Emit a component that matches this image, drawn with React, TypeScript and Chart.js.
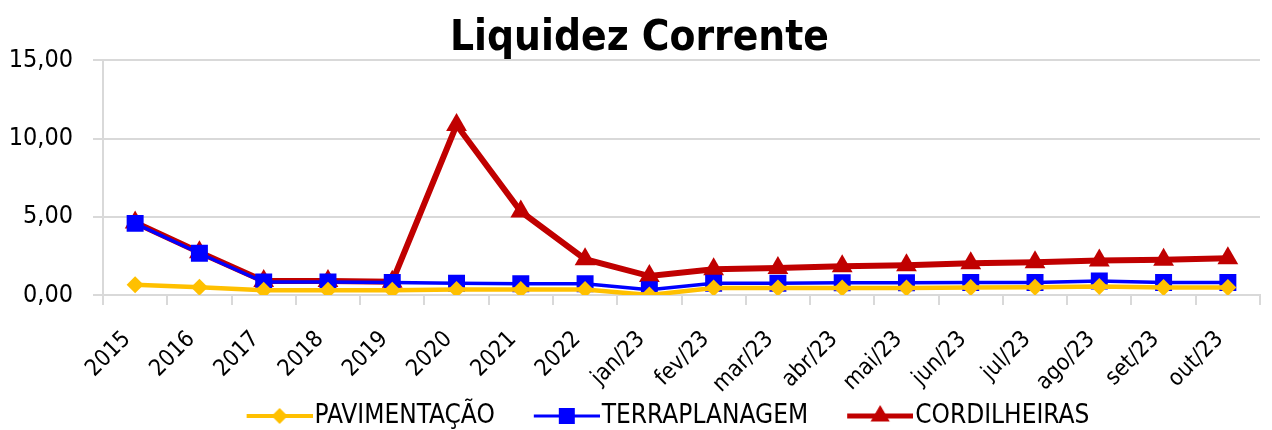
import React, { useEffect, useRef } from "react";
import { Chart, registerables } from "chart.js";
Chart.register(...registerables);

const categories = ["2015","2016","2017","2018","2019","2020","2021","2022","jan/23","fev/23","mar/23","abr/23","mai/23","jun/23","jul/23","ago/23","set/23","out/23"];
const pavimentacao = [0.65,0.5,0.3,0.3,0.3,0.35,0.35,0.35,0.0,0.45,0.45,0.45,0.45,0.48,0.5,0.55,0.48,0.48];
const terraplanagem = [4.58,2.67,0.83,0.83,0.8,0.75,0.72,0.72,0.33,0.75,0.75,0.78,0.78,0.8,0.8,0.9,0.8,0.8];
const cordilheiras = [4.64,2.73,0.89,0.89,0.85,10.87,5.34,2.29,1.21,1.65,1.72,1.84,1.9,2.03,2.1,2.2,2.25,2.35];
const yTicks = [0, 5, 10, 15];

const FONT = "DejaVu Sans Condensed";
const LEG_FS = 26;
const BOX = 86;

function legendIcon(color: string, kind: string, lw: number, r: number) {
  const c = document.createElement("canvas");
  const W = BOX + LEG_FS - 4;
  c.width = W; c.height = 26;
  const ctx = c.getContext("2d")!;
  const cy = 13;
  const x1 = W - 66;
  const cx = W - 33;
  ctx.strokeStyle = color; ctx.lineWidth = lw;
  ctx.beginPath(); ctx.moveTo(x1, cy); ctx.lineTo(W, cy); ctx.stroke();
  ctx.fillStyle = color;
  ctx.beginPath();
  if (kind === "diamond") {
    ctx.moveTo(cx, cy - r); ctx.lineTo(cx + r, cy); ctx.lineTo(cx, cy + r); ctx.lineTo(cx - r, cy);
  } else if (kind === "square") {
    ctx.rect(cx - r, cy - r, 2 * r, 2 * r);
  } else {
    ctx.moveTo(cx, cy - r); ctx.lineTo(cx + r * 0.87, cy + r * 0.5); ctx.lineTo(cx - r * 0.87, cy + r * 0.5);
  }
  ctx.closePath(); ctx.fill();
  return c;
}

const noPad = () => ({ left: 0, right: 0, top: 0, bottom: 0 });

const legendShift = {
  id: "legendShift",
  beforeDraw(chart: any) {
    const lg = chart.legend;
    if (lg && !lg.__shifted) {
      lg.__shifted = true;
      const orig = lg.draw.bind(lg);
      lg.draw = (...args: any[]) => {
        chart.ctx.save();
        chart.ctx.translate(13, 0);
        orig(...args);
        chart.ctx.restore();
      };
    }
  },
};

export default function App() {
  const ref = useRef<HTMLCanvasElement>(null);
  useEffect(() => {
    document.body.style.margin = "0";
    const icons = [
      legendIcon("#FFC000", "diamond", 4, 8),
      legendIcon("#0000FF", "square", 3, 8),
      legendIcon("#C00000", "triangle", 5, 11),
    ];
    const chart = new Chart(ref.current!, {
      type: "line",
      plugins: [legendShift],
      data: {
        labels: categories,
        datasets: [
          { label: "PAVIMENTAÇÃO", data: pavimentacao, borderColor: "#FFC000", backgroundColor: "#FFC000", borderWidth: 4.5, pointStyle: "rectRot", pointRadius: 8.5, pointBorderWidth: 0 },
          { label: "TERRAPLANAGEM", data: terraplanagem, borderColor: "#0000FF", backgroundColor: "#0000FF", borderWidth: 3.5, pointStyle: "rect", pointRadius: 12, pointBorderWidth: 0 },
          { label: "CORDILHEIRAS", data: cordilheiras, borderColor: "#C00000", backgroundColor: "#C00000", borderWidth: 6, pointStyle: "triangle", pointRadius: 12, pointBorderWidth: 0 },
        ],
      },
      options: {
        responsive: false,
        animation: false,
        layout: { padding: { left: 9, right: 2, top: 0, bottom: -9 } },
        scales: {
          x: {
            offset: true,
            afterFit: (s: any) => { s.paddingLeft = 0; s.paddingRight = 0; s.getPadding = noPad; s.height = 100; },
            grid: { display: true, drawOnChartArea: false, drawTicks: true, tickLength: 10, color: "#D9D9D9", lineWidth: 2, offset: true },
            border: { display: true, color: "#D9D9D9", width: 2 },
            ticks: { color: "#000", font: { family: FONT, size: 23 }, maxRotation: 45, minRotation: 45, padding: 21, labelOffset: -8, autoSkip: false },
          },
          y: {
            min: 0, max: 15,
            afterBuildTicks: (axis: any) => { axis.ticks = yTicks.map((v) => ({ value: v })); },
            afterFit: (s: any) => { s.width = 94; },
            grid: { color: "#D9D9D9", lineWidth: 2, tickLength: 10 },
            border: { display: true, color: "#D9D9D9", width: 2 },
            ticks: {
              color: "#000", font: { family: FONT, size: 25 }, padding: 20,
              callback: (v: any) => Number(v).toFixed(2).replace(".", ","),
            },
          },
        },
        plugins: {
          title: { display: true, text: "Liquidez Corrente", color: "#000", font: { family: FONT, size: 42, weight: "bold" }, padding: { top: 14, bottom: -4 } },
          legend: {
            position: "bottom",
            labels: {
              usePointStyle: true, pointStyleWidth: BOX, boxHeight: 24,
              color: "#000", font: { family: FONT, size: LEG_FS }, padding: 8,
              generateLabels: (ch: any) => {
                const items = Chart.defaults.plugins.legend.labels.generateLabels(ch);
                return items.map((it: any, i: number) => ({ ...it, pointStyle: icons[i] }));
              },
            },
          },
          tooltip: { enabled: false },
        },
      },
    });
    return () => chart.destroy();
  }, []);
  return (
    <div style={{ width: 1272, height: 430 }}>
      <canvas ref={ref} width={1272} height={430} />
    </div>
  );
}
